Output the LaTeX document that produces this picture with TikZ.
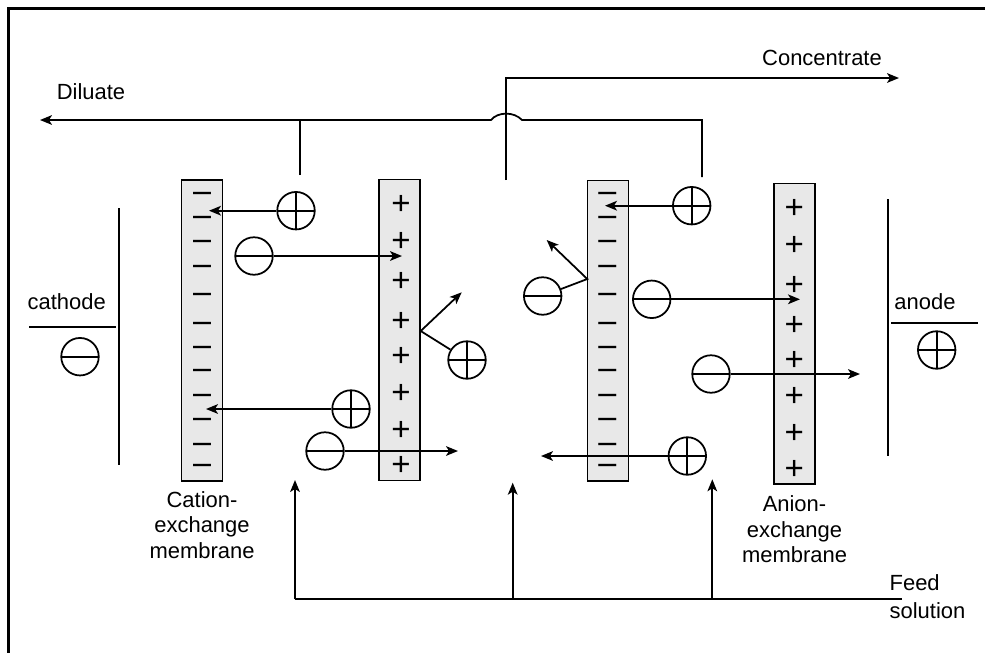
\documentclass[tikz,border=0pt]{standalone}
\usepackage{fontspec}
\setmainfont{Liberation Sans}
\usetikzlibrary{positioning, arrows.meta, calc}

\begin{document}
\begin{tikzpicture}[x=0.02cm, y=-0.02cm, line width=1pt,
    font=\fontsize{12.5}{14.5}\selectfont,
    flow/.style={-{Stealth[length=6.8pt, width=5.5pt, inset=1.7pt]}},
    mem/.style={draw, fill=gray!18, line width=0.9pt, minimum width=0.82cm, minimum height=6.02cm, inner sep=0pt},
    ion/.style={draw, circle, minimum size=0.75cm, inner sep=0pt},
    posion/.style={ion, path picture={\draw (path picture bounding box.north) -- (path picture bounding box.south)
        (path picture bounding box.west) -- (path picture bounding box.east);}},
    negion/.style={ion, path picture={\draw (path picture bounding box.west) -- (path picture bounding box.east);}},
    plussign/.style={inner sep=0pt, yshift=-1.4pt, font=\fontsize{18.8}{18.8}\selectfont},
    minussign/.style={inner sep=0pt, anchor=base, font=\fontsize{12}{12}\bfseries},
    lbl/.style={inner sep=1pt, align=center}]
    \useasboundingbox (0,0) rectangle (985,653);
    \draw[line width=1.4pt] (8.5,653) -- (8.5,8.5) -- (985,8.5);

    % membranes
    \node[mem] (M1) at (202,330.5) {};
    \node[mem] (M2) at (399.7,330) {};
    \node[mem] (M3) at (607.8,330.8) {};
    \node[mem] (M4) at (794.5,333.8) {};
    \foreach \y [count=\i] in {194,217.3,241.7,266.7,294.3,323.3,347.7,371,396,419.3,445,465.7} {
        \node[minussign] (A\i) at (202,\y+6.7) {\scalebox{1.7}[1]{−}};
        \node[minussign] (C\i) at (607.4,\y+6.7) {\scalebox{1.7}[1]{−}};
    }
    \foreach \y [count=\i] in {202.7,240,279.3,319.3,355,391.7,428.3,464}
        \node[plussign] (B\i) at (401,\y) {+};
    \foreach \y [count=\i] in {206.7,243.3,283.3,323.3,358.3,395,431.7,467.7}
        \node[plussign] (D\i) at (794.3,\y) {+};

    \node[lbl, below=0.14cm of M1] (CEM) {Cation-\\exchange\\membrane};
    \node[lbl, below=0.16cm of M4] (AEM) {Anion-\\exchange\\membrane};

    % electrodes
    \draw (119,208) -- (119,465);
    \draw (29,326.7) -- (116,326.7);
    \node (cathode) at (66.7,301.7) {cathode};
    \node[negion] (K) at (80,356.7) {};
    \draw (887.7,199) -- (887.7,456);
    \draw (891,322.7) -- (978,322.7);
    \node (anode) at (925,301.7) {anode};
    \node[posion] (An) at (936.7,350) {};

    % ions
    \node[posion] (P1) at (296,210.7) {};
    \node[negion] (N1) at (254,256) {};
    \node[posion] (P2) at (351,409) {};
    \node[negion] (N2) at (325,451) {};
    \node[posion] (P3) at (467,360) {};
    \node[posion] (P4) at (691.7,205.7) {};
    \node[negion] (N3) at (542.7,296) {};
    \node[negion] (N4) at (651.7,299.3) {};
    \node[negion] (N5) at (711,374) {};
    \node[posion] (P5) at (687.3,456) {};

    \coordinate (t1) at (209,210.7);
    \coordinate (t2) at (402,256);
    \coordinate (t3) at (206,409);
    \coordinate (t4) at (458,451);
    \coordinate (r1) at (420.7,331);
    \coordinate (t5) at (461.7,292.3);
    \coordinate (t6) at (605,205.7);
    \coordinate (r2) at (587.3,279);
    \coordinate (t7) at (546.7,240);
    \coordinate (t8) at (800,299.3);
    \coordinate (t9) at (860,374);
    \coordinate (t10) at (541,456);

    \draw[flow] (P1) -- (t1);
    \draw[flow] (N1) -- (t2);
    \draw[flow] (P2) -- (t3);
    \draw[flow] (N2) -- (t4);
    \draw[flow] (P3) -- (r1) -- (t5);
    \draw[flow] (P4) -- (t6);
    \draw[flow] (N3) -- (r2) -- (t7);
    \draw[flow] (N4) -- (t8);
    \draw[flow] (N5) -- (t9);
    \draw[flow] (P5) -- (t10);

    % outlets
    \coordinate (dL) at (300,175);
    \coordinate (dLtop) at (300,120);
    \coordinate (dR) at (702,177);
    \coordinate (dOut) at (40,120);
    \coordinate (cB) at (506,180);
    \coordinate (cOut) at (899,78);
    \draw (dL) -- (dLtop);
    \draw[flow] (dR) |- (522,120) .. controls (514,111.5) and (498,111.5) .. (491,120) -- (dOut);
    \draw[flow] (cB) |- (cOut);
    \node[lbl] (Dil) at (91,92) {Diluate};
    \node[lbl] (Con) at (822,58) {Concentrate};

    % feed
    \coordinate (f1) at (295,599.3);
    \coordinate (f2) at (512.7,599.3);
    \coordinate (f3) at (712.3,599.3);
    \coordinate (fEnd) at (902,599.3);
    \coordinate (g1) at (295,480);
    \coordinate (g2) at (512.7,482.7);
    \coordinate (g3) at (712.3,479.3);
    \draw (f1) -- (fEnd);
    \draw[flow] (f1) -- (g1);
    \draw[flow] (f2) -- (g2);
    \draw[flow] (f3) -- (g3);
    \node[lbl, anchor=west, align=left, font=\fontsize{12.5}{16}\selectfont] (Feed) at (887,597) {Feed\\solution};
\end{tikzpicture}
\end{document}
